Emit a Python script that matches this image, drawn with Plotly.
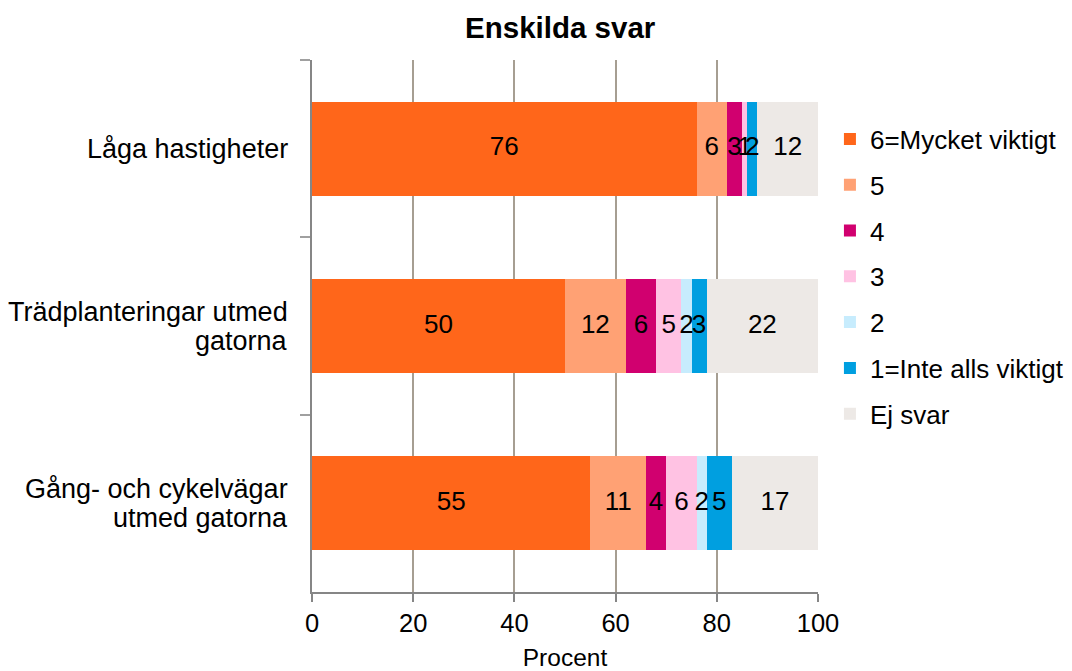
import plotly.graph_objects as go
import numpy as np

categories = ["Låga hastigheter", "Trädplanteringar utmed<br>gatorna", "Gång- och cykelvägar<br>utmed gatorna"]
series_names = ["6=Mycket viktigt", "5", "4", "3", "2", "1=Inte alls viktigt", "Ej svar"]
v6 = [76, 50, 55]
v5 = [6, 12, 11]
v4 = [3, 6, 4]
v3 = [1, 5, 6]
v2 = [0, 2, 2]
v1 = [2, 3, 5]
vej = [12, 22, 17]
x_ticks = [0, 20, 40, 60, 80, 100]

colors = ["#FF661A", "#FFA174", "#D1006F", "#FFC2E3", "#C7ECFD", "#009FE0", "#EDE9E6"]
series = [v6, v5, v4, v3, v2, v1, vej]

FONT = "Liberation Sans, Arial, sans-serif"
fig = go.Figure()

cum = np.zeros(len(categories))
for name, vals, col in zip(series_names, series, colors):
    vals = np.array(vals, dtype=float)
    fig.add_trace(go.Bar(
        y=categories, x=vals, name=name, orientation="h",
        marker=dict(color=col, line=dict(width=0)),
        legendgroup=name, hoverinfo="x+name",
    ))
    mids = cum + vals / 2
    mask = vals > 0
    fig.add_trace(go.Scatter(
        y=[c for c, m in zip(categories, mask) if m],
        x=mids[mask], mode="text",
        text=[str(int(v)) for v, m in zip(vals, mask) if m],
        textfont=dict(family=FONT, size=26, color="black"),
        showlegend=False, hoverinfo="skip", cliponaxis=False,
    ))
    cum = cum + vals

# category labels, centred lines, right edge next to the axis
LINE_GAP = 29
for c in categories:
    lines = c.split("<br>")
    n = len(lines)
    for i, ln in enumerate(lines):
        shift = ((n - 1) / 2 - i) * LINE_GAP
        fig.add_annotation(
            x=-0.0435, xref="paper", y=c, yref="y", text=ln,
            xanchor="right", yanchor="middle", align="center", showarrow=False,
            yshift=shift, xshift=0,
            font=dict(family=FONT, size=27, color="black"),
        )

fig.update_layout(
    width=1064, height=663,
    margin=dict(l=304, r=254, t=52, b=79),
    paper_bgcolor="white", plot_bgcolor="white",
    barmode="stack", bargap=0.47,
    title=dict(text="<b>Enskilda svar</b>", x=0.519, xanchor="center",
               y=1 - 20 / 663, yanchor="middle", yref="container",
               font=dict(family=FONT, size=29.5, color="black")),
    legend=dict(x=0.7725, xref="container", xanchor="left", y=0.593, yanchor="middle",
                traceorder="grouped", tracegroupgap=9,
                font=dict(family=FONT, size=26, color="black"),
                bgcolor="rgba(0,0,0,0)"),
    showlegend=True,
    xaxis=dict(range=[0, 100], tickvals=x_ticks, showgrid=True,
               gridcolor="#A69E92", gridwidth=1.5,
               showline=True, linecolor="#868686", linewidth=1.5,
               ticks="outside", ticklen=8, tickcolor="#868686", tickwidth=1.5,
               tickfont=dict(family=FONT, size=25.5, color="black"),
               title=dict(text="Procent", font=dict(family=FONT, size=24.5, color="black"), standoff=18),
               zeroline=False, automargin=False),
    yaxis=dict(autorange="reversed", type="category", showticklabels=False,
               showline=True, linecolor="#868686", linewidth=2,
               ticks="outside", tickson="boundaries", ticklen=10,
               tickcolor="#A0A0A0", tickwidth=1.5, showgrid=False, automargin=False),
)

fig.write_html("out.html")
